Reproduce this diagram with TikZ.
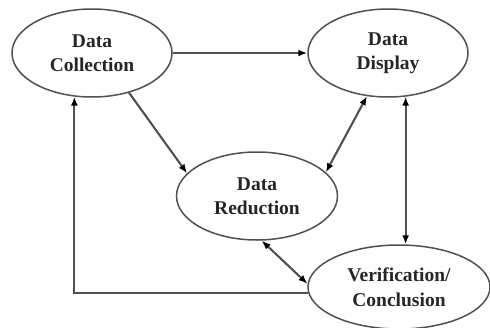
\documentclass[tikz,border=0pt]{standalone}
\usepackage{fontspec}
\setmainfont{Liberation Serif}
\usetikzlibrary{shapes.geometric,arrows.meta}
\definecolor{linegray}{HTML}{505050}
\definecolor{textgray}{HTML}{262626}
\begin{document}
\begin{tikzpicture}[x=1pt,y=-1pt,
  stage/.style={ellipse,draw=linegray,line width=1.5pt,inner sep=0pt,
    align=center,font=\fontsize{19.5}{24.5}\selectfont\bfseries,text=textgray},
  conn/.style={draw=linegray,line width=2.1pt},
  tip/.style={-{Latex[length=9pt,width=7pt,color=black]}},
  twotip/.style={{Latex[length=9pt,width=7pt,color=black]}-{Latex[length=9pt,width=7pt,color=black]}}]
\useasboundingbox (0,0) rectangle (490,327);
\clip (0,0) rectangle (490,327);
\node[stage,minimum width=160pt,minimum height=88pt] (dc) at (92,53) {Data\\Collection};
\node[stage,minimum width=160pt,minimum height=88pt] (dd) at (388,53) {Data\\Display};
\node[stage,minimum width=161pt,minimum height=88pt] (dr) at (257,196) {Data\\Reduction};
\node[stage,minimum width=182pt,minimum height=84pt] (dv) at (399,287) {Verification/\\Conclusion};
\draw[conn,tip] (dc.east) -- (dd.west);
\draw[conn,tip] (dc.-47) -- (dr.162);
\draw[conn,twotip] (dd.-116) -- (dr.19);
\draw[conn,twotip] (dd.-68) -- (dd.-68 |- dv.north);
\draw[conn,twotip] (dr.-84) -- (dv.178);
\draw[conn,tip] (dv.184) -| (dc.-112);
\end{tikzpicture}
\end{document}
